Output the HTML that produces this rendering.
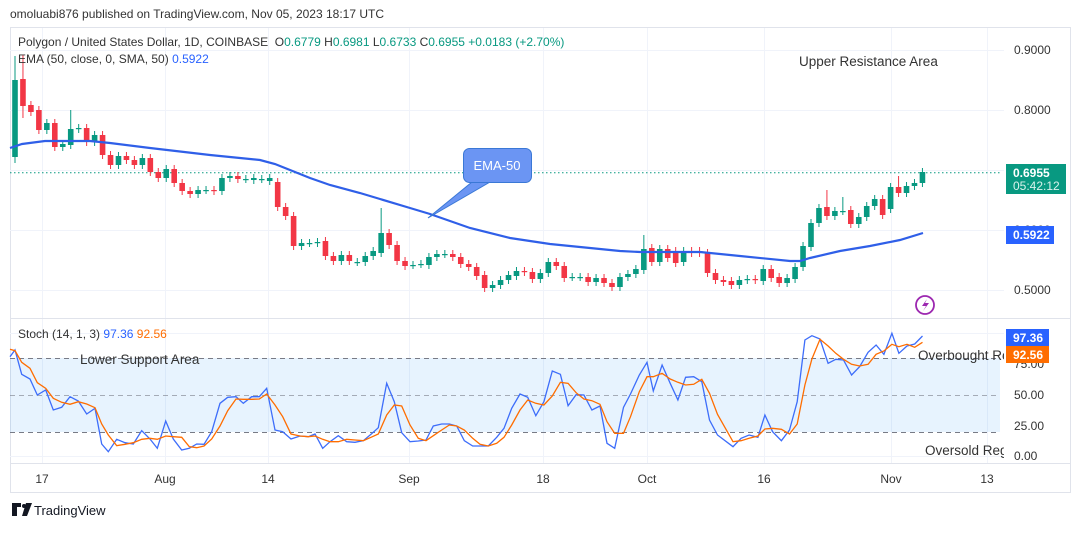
<!DOCTYPE html>
<html><head><meta charset="utf-8"><style>
html,body{margin:0;padding:0;background:#fff;}
body{width:1080px;height:528px;overflow:hidden;font-family:"Liberation Sans",sans-serif;}
svg text{font-family:"Liberation Sans",sans-serif;}
</style></head><body>
<svg id="s" width="1080" height="528" xmlns="http://www.w3.org/2000/svg">
<rect x="0" y="0" width="1080" height="528" fill="#fff"/>
<text x="10" y="18" font-size="12" fill="#333">omoluabi876 published on TradingView.com, Nov 05, 2023 18:17 UTC</text>
<rect x="10.5" y="27.5" width="1060" height="465" fill="none" stroke="#e0e3eb"/>
<g id="grid" stroke="#f0f3fa" stroke-width="1"></g>
<rect x="10" y="358" width="990" height="74" fill="#2196f3" fill-opacity="0.11"/>
<g stroke="#787b86" stroke-dasharray="5,4" stroke-width="1">
<line x1="10" y1="358.5" x2="1000" y2="358.5"/>
<line x1="10" y1="395.5" x2="1000" y2="395.5" stroke-opacity="0.6"/>
<line x1="10" y1="432.5" x2="1000" y2="432.5"/>
</g>
<line x1="10" y1="318.5" x2="1070" y2="318.5" stroke="#e0e3eb"/>
<line x1="10" y1="172.7" x2="1000" y2="172.7" stroke="#089981" stroke-dasharray="1.5,2.5"/>
<g id="candles"></g>
<polyline id="ema" fill="none" stroke="#2f5fe8" stroke-width="2.2"/>
<polyline id="stK" fill="none" stroke="#3d6dfa" stroke-width="1.3"/>
<polyline id="stD" fill="none" stroke="#ff6d00" stroke-width="1.3"/>
<path d="M472,182 L428,218 L490,182 Z" fill="#6b95f3" stroke="#3a78d6" stroke-width="1"/>
<rect x="463.5" y="148.5" width="68" height="34" rx="6" fill="#6b95f3" stroke="#3a78d6"/>
<path d="M473,181 L489,181" stroke="#6b95f3" stroke-width="2"/>
<text x="497" y="170" font-size="13" fill="#fff" text-anchor="middle">EMA-50</text>
<text x="799" y="66" font-size="13.5" fill="#333">Upper Resistance Area</text>
<text x="80" y="364" font-size="13.5" fill="#333">Lower Support Area</text>
<text x="918" y="360" font-size="13.5" fill="#333">Overbought Re</text>
<text x="925" y="455" font-size="13.5" fill="#333">Oversold Reg</text>
<rect x="1004" y="330" width="66" height="160" fill="#fff"/>
<rect x="1004" y="28" width="66" height="290" fill="#fff"/>
<text x="18" y="46" font-size="12" fill="#333" xml:space="preserve">Polygon / United States Dollar, 1D, COINBASE  O<tspan fill="#089981">0.6779</tspan> H<tspan fill="#089981">0.6981</tspan> L<tspan fill="#089981">0.6733</tspan> C<tspan fill="#089981">0.6955 +0.0183 (+2.70%)</tspan></text>
<text x="18" y="63" font-size="12" fill="#333">EMA (50, close, 0, SMA, 50) <tspan fill="#2962ff">0.5922</tspan></text>
<text x="18" y="338" font-size="12" fill="#333">Stoch (14, 1, 3) <tspan fill="#2962ff">97.36</tspan> <tspan fill="#ff6d00">92.56</tspan></text>
<g font-size="12" fill="#333">
<text x="1014" y="54">0.9000</text>
<text x="1014" y="114">0.8000</text>
<text x="1014" y="234">0.6000</text>
<text x="1014" y="294">0.5000</text>
<text x="1014" y="368">75.00</text>
<text x="1014" y="399">50.00</text>
<text x="1014" y="430">25.00</text>
<text x="1014" y="460">0.00</text>
</g>
<rect x="1006" y="164" width="60" height="30" fill="#089981"/>
<text x="1013" y="177" font-size="12" font-weight="bold" fill="#fff">0.6955</text>
<text x="1013" y="190" font-size="12" fill="#d9f2ec">05:42:12</text>
<rect x="1006" y="226" width="48" height="18" fill="#2962ff"/>
<text x="1013" y="239" font-size="12" font-weight="bold" fill="#fff">0.5922</text>
<rect x="1006" y="329" width="43" height="17" fill="#2962ff"/>
<text x="1013" y="342" font-size="12" font-weight="bold" fill="#fff">97.36</text>
<rect x="1006" y="346" width="43" height="17" fill="#ff6d00"/>
<text x="1013" y="359" font-size="12" font-weight="bold" fill="#fff">92.56</text>
<line x1="10" y1="463.5" x2="1070" y2="463.5" stroke="#e0e3eb"/>
<g font-size="12" fill="#333" text-anchor="middle">
<text x="42" y="483">17</text><text x="165" y="483">Aug</text><text x="268" y="483">14</text>
<text x="409" y="483">Sep</text><text x="543" y="483">18</text><text x="647" y="483">Oct</text>
<text x="764" y="483">16</text><text x="891" y="483">Nov</text><text x="987" y="483">13</text>
</g>
<circle cx="925" cy="305" r="9" fill="none" stroke="#9c27b0" stroke-width="1.8"/>
<path d="M927,299 L922,306 L926,306 L923,311 L929,303 L925,303 Z" fill="#9c27b0"/>
<path d="M12,503 h9 v4 h-4 v9 h-5 z" fill="#131722"/>
<circle cx="24" cy="506" r="2" fill="#131722"/>
<path d="M26,503 h6 l-5 13 h-5 z" fill="#131722"/>
<text x="34" y="515" font-size="13" fill="#131722">TradingView</text>
</svg>
<script>
var NS="http://www.w3.org/2000/svg";
function el(t,a,p){var e=document.createElementNS(NS,t);for(var k in a)e.setAttribute(k,a[k]);p.appendChild(e);return e;}
var g=document.getElementById('grid');
[42,165,268,409,543,647,764,891,987].forEach(function(x){el('line',{x1:x+.5,y1:28,x2:x+.5,y2:463},g);});
[50,110,170,230,290,333,456].forEach(function(y){el('line',{x1:10,y1:y+.5,x2:1005,y2:y+.5},g);});
var C=[[157,80,56,163],[79,106,55,118],[105,112],[110,130],[130,123],[123,147],[147,144],[145,129,110],[129,128],[128,142],[142,135],[135,155],[155,165],[165,156],[156,160],[160,165],[165,158],[158,172],[172,178],[178,169],[169,183],[183,191],[191,194],[194,190],[190,190],[190,191],[191,178],[178,176],[176,179],[179,179],[180,178],[179,179],[181,178],[182,207],[207,216],[216,246],[246,243],[243,243],[243,242],[241,256],[256,261],[261,255],[255,261],[262,262],
[262,256],[256,251],[253,233,208],[233,245],[245,261],[261,266],[265,265],[264,264],[265,257],[257,254],[254,254],[254,257],[257,264],[264,267],[267,276],[275,288],[288,285],[285,280],[280,275],[276,271],[271,272],[272,279],[279,273],[273,262],[262,266],[266,278],[277,277],[277,277],[277,282],[282,278],[278,283],[283,287],[287,277],[277,274],[274,269],[270,249,235],[248,262],[262,249],[249,258],[251,263],[262,251],[251,253],
[251,253],[253,273],[273,280],[280,282],[281,285],[285,280],[280,279],[279,280],[281,269],[269,278],[277,283],[283,278],[279,267],[267,246],[247,223],[223,208],[207,216,190],[216,211],[211,211,197],[210,224],[224,217],[217,206],[206,199],[199,215],[209,187],[187,193,176],[193,186],[186,183],[183,172]];
var cg=document.getElementById('candles');
C.forEach(function(c,i){var x=15+i*7.96,o=c[0],cl=c[1];var up=cl<=o;var col=up?'#089981':'#f23645';
var top=Math.min(o,cl),bot=Math.max(o,cl);var h=c[2]||top-4,l=c[3]||bot+4;
el('line',{x1:x,y1:h,x2:x,y2:l,stroke:col,'stroke-width':1},cg);
el('rect',{x:x-2.8,y:top,width:5.6,height:Math.max(1.2,bot-top),fill:col},cg);});
document.getElementById('ema').setAttribute('points',"10,148 22,144 45,141 90,141 110,143 150,148 210,155 240,158 260,160 275,164 290,170 310,178 330,185 360,193 380,199 410,208 430,214 470,228 510,238 550,244 590,248 620,251 640,252 660,252 700,252 740,256 790,261 800,261 810,258 840,251 870,246 900,240 923,233");
function pts(a,ox,sx){var r=[];for(var i=0;i<a.length;i+=2)r.push((ox+a[i]/sx).toFixed(1)+","+(320+a[i+1]/3).toFixed(1));return r;}
var k4=[30,110,45,90,65,163,90,177,112,225,137,210,160,270,185,262,210,230,235,243,260,282,285,265,305,372,325,395,350,358,375,368,400,372,425,332,450,357,472,385,497,303,520,357,545,390,568,385,590,372,612,373,635,335,660,250,683,232,708,230,730,250,755,230,778,230,800,205,825,330,848,335,873,357,900,348,925,350,945,342,968,385,990,365,1015,347,1040,365,1065,367,1090,362,1113,343,1135,323,1160,190,1183,245,1205,338,1230,365,1255,363,1278,360,1300,318,1325,312,1348,312,1370,318,1393,362,1418,378,1440,378,1465,378,1490,352,1512,325,1535,265];
var d4=[30,88,45,92,65,127,90,145,112,188,137,205,160,235,185,247,210,253,235,245,260,252,285,263,305,312,325,345,350,377,375,373,400,368,425,358,450,355,472,358,497,348,520,350,545,352,568,380,590,383,612,378,635,357,660,318,683,272,708,237,730,238,755,238,778,237,800,222,825,255,848,290,873,342,900,348,925,350,945,348,968,358,990,365,1015,365,1040,358,1065,360,1090,362,1113,352,1135,342,1160,285,1183,255,1205,258,1230,315,1255,355,1278,362,1300,347,1325,330,1348,315,1370,318,1393,330,1418,355,1440,373,1465,378,1490,370,1512,352,1535,315];
var k5=[0,222,22,232,45,287,68,245,92,153,115,163,137,257,160,224,182,225,205,270,228,258,248,370,270,385,295,262,315,222,340,165,362,127,380,213,405,135,428,190,450,240,472,172,495,170,518,185,540,300,563,345,607,380,630,355,653,345,678,352,698,285,720,335,745,362,768,330,790,245,812,60,832,47,855,57,878,130,900,118,922,120,945,165,968,140,992,97,1015,75,1037,103,1060,40,1080,100,1103,78,1125,72,1147,48];
var d5=[0,270,22,240,45,250,68,255,92,228,115,187,137,190,160,218,182,237,205,242,228,253,248,305,270,340,295,340,315,290,340,215,362,170,380,170,405,160,428,177,450,187,472,195,495,193,518,178,540,220,563,283,607,365,630,362,653,355,678,348,698,327,720,325,745,328,768,342,790,312,812,195,832,117,855,58,878,78,900,100,922,118,945,133,968,138,992,133,1015,103,1037,93,1060,73,1080,80,1103,73,1125,82,1147,67];
document.getElementById('stK').setAttribute('points',pts(k4,0,3).concat(pts(k5,520,2.85)).join(' '));
document.getElementById('stD').setAttribute('points',pts(d4,0,3).concat(pts(d5,520,2.85)).join(' '));
</script>
</body></html>
